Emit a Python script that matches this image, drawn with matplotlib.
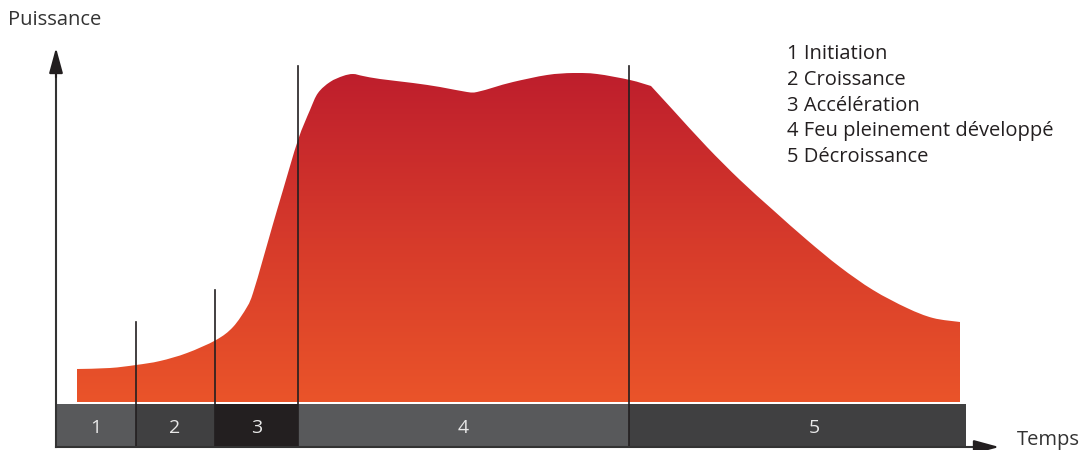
import numpy as np
import matplotlib.pyplot as plt
from matplotlib.colors import LinearSegmentedColormap
from matplotlib.path import Path
from matplotlib.patches import PathPatch

plt.rcParams['font.family'] = ['Open Sans', 'DejaVu Sans']

# courbe de puissance (temps, puissance) - unites en pixels du dessin
temps = [77, 110, 136, 160, 187, 216, 233, 247, 253, 263, 273, 283, 298, 310,
         318, 330, 343, 353, 363, 380, 413, 440, 467, 477, 495, 513, 547, 573,
         597, 630, 651, 673, 707, 740, 773, 807, 840, 873, 907, 933, 960]
hauteur = [369, 368, 365, 361, 353, 340, 327, 307, 293, 259, 224, 190, 140, 110,
           93, 82, 76, 74, 76, 79, 83, 87, 92, 92, 87, 82, 75, 73,
           74, 80, 86, 110, 147, 180, 210, 240, 267, 290, 308, 318, 322]
puissance = [450 - h for h in hauteur]
base = 450 - 402
coins = [651]  # angles vifs de la courbe

# phases
bornes = [56, 136, 215, 298, 629, 966]
numeros = ['1', '2', '3', '4', '5']
centres_numeros = [96, 175, 257, 463, 814]
couleurs_phases = ['#58595b', '#404041', '#231f20', '#58595b', '#404041']
hauts_traits = [450 - 322, 450 - 290, 450 - 66, 450 - 66]

legende = ['1 Initiation', '2 Croissance', '3 Accélération',
           '4 Feu pleinement développé', '5 Décroissance']


def chemin_lisse(xs, ys, coupures):
    # courbe de Bezier passant par les points (Catmull-Rom), coupee aux coins
    pts = np.column_stack([xs, ys]).astype(float)
    idx = [0] + [xs.index(c) for c in coupures] + [len(xs) - 1]
    verts, codes = [], []
    for a, b in zip(idx[:-1], idx[1:]):
        seg = pts[a:b + 1]
        for i in range(len(seg) - 1):
            p0 = seg[i - 1] if i > 0 else seg[i]
            p1, p2 = seg[i], seg[i + 1]
            p3 = seg[i + 2] if i + 2 < len(seg) else seg[i + 1]
            verts += [p1 + (p2 - p0) / 6, p2 - (p3 - p1) / 6, p2]
            codes += [Path.CURVE4] * 3
    return verts, codes


fig = plt.figure(figsize=(10.81, 4.5), dpi=100)
ax = fig.add_axes([0, 0, 1, 1])
ax.set_xlim(0, 1081)
ax.set_ylim(0, 450)
ax.axis('off')

# remplissage en degrade
v, c = chemin_lisse(temps, puissance, coins)
verts = [(temps[0], base), (temps[0], puissance[0])] + v + [(temps[-1], base), (temps[0], base)]
codes = [Path.MOVETO, Path.LINETO] + c + [Path.LINETO, Path.CLOSEPOLY]
patch = PathPatch(Path(verts, codes), facecolor='none', edgecolor='none')
ax.add_patch(patch)
cmap = LinearSegmentedColormap.from_list('feu', ['#ea5429', '#d63a2b', '#be1e2d'])
grad = np.linspace(0, 1, 256).reshape(-1, 1)
im = ax.imshow(grad, cmap=cmap, aspect='auto', origin='lower',
               extent=[min(temps), max(temps), base, max(puissance)], zorder=1)
im.set_clip_path(patch)

# bande des phases
gauches = bornes[:-1]
largeurs = np.diff(bornes)
ax.barh(24, largeurs, left=gauches, height=44, color=couleurs_phases, zorder=2)
for cx, n in zip(centres_numeros, numeros):
    ax.text(cx, 22, n, color='#e8e8e8', fontsize=14,
            ha='center', va='center', zorder=4)

# traits verticaux
for b, h in zip(bornes[1:-1], hauts_traits):
    ax.plot([b, b], [3, h], color='#231f20', lw=1.2, zorder=3)

# axes
ax.plot([56, 980], [3, 3], color='#333333', lw=1.5, zorder=3)
ax.annotate('', xy=(1002, 3), xytext=(975, 3),
            arrowprops=dict(arrowstyle='-|>,head_length=1.1,head_width=0.3',
                            mutation_scale=14, color='#231f20', lw=1.5))
ax.plot([56, 56], [3, 390], color='#333333', lw=1.5, zorder=3)
ax.annotate('', xy=(56, 450 - 45), xytext=(56, 370),
            arrowprops=dict(arrowstyle='-|>,head_length=1.1,head_width=0.3',
                            mutation_scale=14, color='#231f20', lw=1.5))

ax.text(8, 450 - 20, 'Puissance', fontsize=14.5, color='#333333', va='center')
ax.text(1017, 450 - 440, 'Temps', fontsize=14.5, color='#333333', va='center')

for i, t in enumerate(legende):
    ax.text(787, 450 - 54 - i * 25.8, t, fontsize=14.5, color='#231f20', va='center')

fig.savefig('out.png', dpi=100)
